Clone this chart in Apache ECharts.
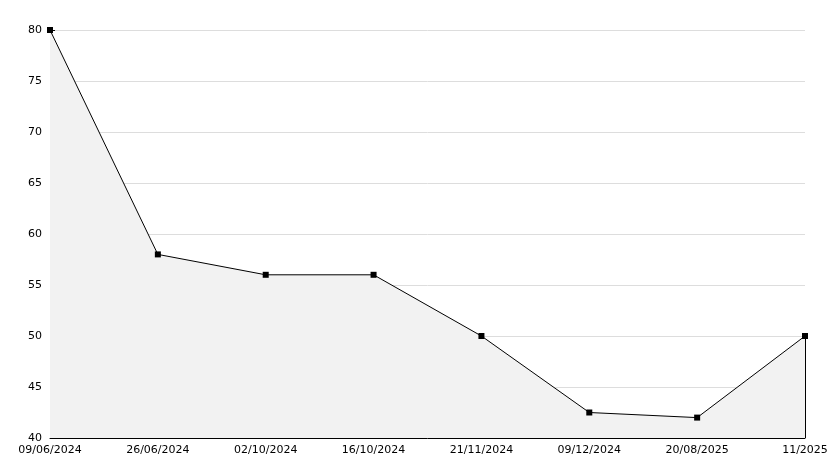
<!DOCTYPE html>
<html><head><meta charset="utf-8">
<script src="https://cdn.jsdelivr.net/npm/echarts@6/dist/echarts.min.js"></script>
<style>html,body{margin:0;padding:0;background:#fff}#c{width:834px;height:468px}</style>
</head><body><div id="c"></div>
<script>
const categories = ['09/06/2024','26/06/2024','02/10/2024','16/10/2024','21/11/2024','09/12/2024','20/08/2025','11/2025'];
const values = [80, 58, 56, 56, 50, 42.5, 42, 50];
const yTicks = {min: 40, max: 80, interval: 5};

const lastCat = categories[categories.length - 1];
const lastVal = values[values.length - 1];

const chart = echarts.init(document.getElementById('c'));
chart.setOption({
  animation: false,
  grid: {left: 50, right: 29, top: 30, bottom: 30, containLabel: false},
  xAxis: {
    type: 'category', data: categories, boundaryGap: false,
    axisLine: {show: true, lineStyle: {color: '#000', width: 1}},
    axisTick: {show: true, inside: true, length: 5, lineStyle: {color: '#000'}},
    axisLabel: {color: '#000', fontFamily: 'DejaVu Sans', fontSize: 11, margin: 7, interval: 0},
    splitLine: {show: false}
  },
  yAxis: {
    type: 'value', min: yTicks.min, max: yTicks.max, interval: yTicks.interval,
    axisLine: {show: true, lineStyle: {color: '#000', width: 1}},
    axisTick: {show: true, inside: true, length: 5, lineStyle: {color: '#000'}},
    minorTick: {show: true, splitNumber: 5, length: 4, lineStyle: {color: '#000'}},
    axisLabel: {color: '#000', fontFamily: 'DejaVu Sans', fontSize: 11, margin: 8},
    splitLine: {show: true, lineStyle: {color: '#dddddd', width: 1}}
  },
  series: [{
    type: 'line', data: values,
    symbol: 'rect', symbolSize: 6,
    itemStyle: {color: '#000'},
    lineStyle: {color: '#000', width: 1},
    areaStyle: {color: '#f2f2f2', opacity: 1},
    z: 3,
    markLine: {
      silent: true, symbol: 'none', label: {show: false},
      lineStyle: {color: '#000', width: 1, type: 'solid'},
      data: [[{coord: [lastCat, lastVal]}, {coord: [lastCat, yTicks.min]}]]
    }
  }]
});
</script></body></html>
